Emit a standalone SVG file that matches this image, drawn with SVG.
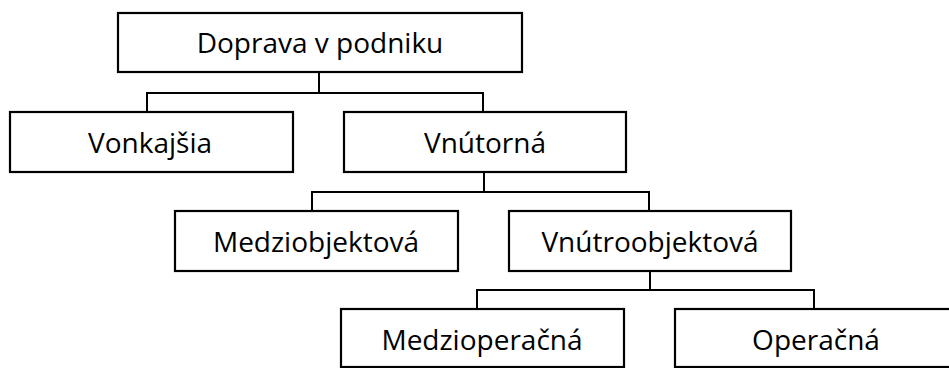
<svg xmlns="http://www.w3.org/2000/svg" width="949" height="368" viewBox="0 0 949 368">
<style>
.box{fill:#fff;stroke:#000;stroke-width:2.2}
.lbl{font-family:"Open Sans","Noto Sans",sans-serif;font-size:28px;fill:#000;text-anchor:middle}
.con{fill:none;stroke:#000;stroke-width:2}
</style>
<rect width="949" height="368" fill="#fff"/>
<g id="connectors">
<polyline class="con" points="319,72 319,93"/>
<polyline class="con" points="147,112 147,93 483,93 483,112"/>
<polyline class="con" points="484,172 484,192"/>
<polyline class="con" points="312,211 312,192 649,192 649,211"/>
<polyline class="con" points="650,271 650,290"/>
<polyline class="con" points="477,309 477,290 814,290 814,309"/>
</g>
<g id="n-doprava"><rect class="box" x="118" y="13" width="404" height="59"/><text class="lbl" x="320" y="53">Doprava v podniku</text></g>
<g id="n-vonkajsia"><rect class="box" x="10" y="112" width="283" height="60"/><text class="lbl" x="150" y="153">Vonkajšia</text></g>
<g id="n-vnutorna"><rect class="box" x="344" y="112" width="282" height="60"/><text class="lbl" x="485" y="153">Vnútorná</text></g>
<g id="n-medziobjektova"><rect class="box" x="175" y="211" width="283" height="60"/><text class="lbl" x="316" y="252">Medziobjektová</text></g>
<g id="n-vnutroobjektova"><rect class="box" x="509" y="211" width="282" height="60"/><text class="lbl" x="650" y="252">Vnútroobjektová</text></g>
<g id="n-medzioperacna"><rect class="box" x="341" y="309" width="283" height="58"/><text class="lbl" x="482" y="350">Medzioperačná</text></g>
<g id="n-operacna"><rect class="box" x="675" y="309" width="283" height="58"/><text class="lbl" x="816" y="350">Operačná</text></g>
</svg>
